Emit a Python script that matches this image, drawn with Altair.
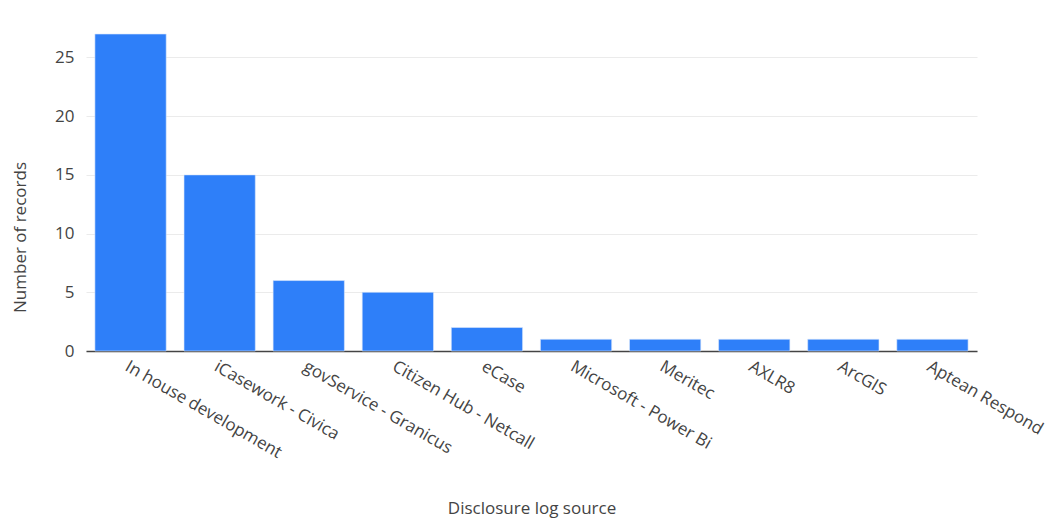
import altair as alt
import pandas as pd

sources = ["In house development", "iCasework - Civica", "govService - Granicus",
           "Citizen Hub - Netcall", "eCase", "Microsoft - Power Bi", "Meritec",
           "AXLR8", "ArcGIS", "Aptean Respond"]
counts = [27, 15, 6, 5, 2, 1, 1, 1, 1, 1]

df = pd.DataFrame({"source": sources, "count": counts})

FONT = "Open Sans"

chart = alt.Chart(df).mark_bar(color="#2e7ff9", stroke="#dbe8fb", strokeWidth=0.6).encode(
    x=alt.X("source:N", sort=sources, title="Disclosure log source",
            scale=alt.Scale(paddingInner=0.2, paddingOuter=0.1),
            axis=alt.Axis(labelAngle=30, labelAlign="left", labelBaseline="top",
                          labelPadding=7, ticks=False, domainColor="#444",
                          domainWidth=1.5, labelFontSize=17, labelColor="#444",
                          titleFontSize=17, titleColor="#444", titleFontWeight="normal",
                          titleY=157, titleBaseline="middle", labelFont=FONT, titleFont=FONT)),
    y=alt.Y("count:Q", title="Number of records",
            scale=alt.Scale(domain=[0, 27], nice=False),
            axis=alt.Axis(values=[0, 5, 10, 15, 20, 25], domain=False, ticks=False,
                          gridColor="#ebebeb", labelPadding=12, labelFontSize=17,
                          labelColor="#444", titleFontSize=17, titleColor="#444",
                          titleFontWeight="normal", titleX=-66, titleY=203,
                          titleBaseline="middle", labelFont=FONT, titleFont=FONT)),
).properties(
    width=891, height=317,
    autosize=alt.AutoSizeParams(type="none"),
    padding={"left": 78, "top": 26, "right": 68, "bottom": 174},
).configure_view(stroke=None)

chart.save("out.html", embed_options={"renderer": "svg", "actions": False})
